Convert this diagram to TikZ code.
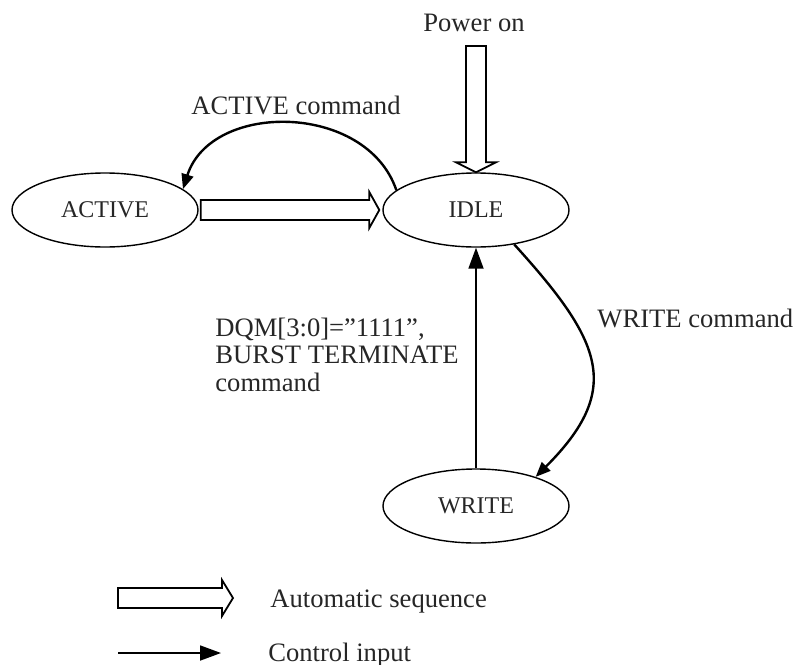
\documentclass[tikz,border=0pt]{standalone}
\usepackage{fontspec}
\setmainfont{Liberation Serif}
\usetikzlibrary{shapes.geometric,arrows.meta,calc}
\begin{document}
\begin{tikzpicture}[x=0.5pt,y=-0.5pt,
  state/.style={draw, ellipse, line width=0.7pt, minimum width=93pt, minimum height=37pt,
    inner sep=0pt, font=\fontsize{12}{14}\selectfont, text=black!85},
  lbl/.style={font=\fontsize{13.3}{13.6}\selectfont, inner sep=0pt, text=black!85},
  hollow/.style={draw, line width=0.9pt, fill=white, line join=miter},
  ctrl/.style={line width=1.2pt, -{Triangle[length=7.5pt,width=6pt]}},
  straight/.style={line width=0.9pt, -{Triangle[length=10.5pt,width=7.5pt]}}]
\useasboundingbox (0,0) rectangle (797,664);

% states
\node[state] (act)  at (105,210) {ACTIVE};
\node[state] (idle) at (476,210) {IDLE};
\node[state] (wr)   at (476,506) {WRITE};

% power-on entry
\node[lbl, anchor=base] (pwr) at (474,32) {Power on};
\coordinate (pon) at (476,46);
\draw[hollow] ($(pon)+(-10,0)$) -- ($(idle.north)+(-10,-10)$) -- ($(idle.north)+(-20,-10)$)
  -- (idle.north) -- ($(idle.north)+(20,-10)$) -- ($(idle.north)+(10,-10)$)
  -- ($(pon)+(10,0)$) -- cycle;

% automatic return ACTIVE -> IDLE
\draw[hollow] ($(act.east)+(2,-10)$) -- ($(idle.west)+(-13,-10)$) -- ($(idle.west)+(-13,-18)$)
  -- ($(idle.west)+(-3,0)$) -- ($(idle.west)+(-13,18)$) -- ($(idle.west)+(-13,10)$)
  -- ($(act.east)+(2,10)$) -- cycle;

% commands
\draw[ctrl] (idle.166) .. controls +(-30,-88) and +(28,-88) .. (act.15);
\node[lbl, anchor=base] (acmd) at (296,114) {ACTIVE command};

\draw[ctrl] (idle.-42) .. controls +(88,97) and +(88,-88) .. (wr.26);
\node[lbl, anchor=base west] (wcmd) at (597,327) {WRITE command};

\draw[straight] (wr.north) -- (idle.south);
\node[lbl, anchor=base west, align=left] (dqm) at (215,391)
  {DQM[3:0]=”1111\symbol{34},\\BURST TERMINATE\\command};

% legend
\coordinate (la1) at (118,598);
\coordinate (la2) at (233,598);
\draw[hollow] ($(la1)+(0,-10)$) -- ($(la2)+(-11,-10)$) -- ($(la2)+(-11,-18)$) -- (la2)
  -- ($(la2)+(-11,18)$) -- ($(la2)+(-11,10)$) -- ($(la1)+(0,10)$) -- cycle;
\node[lbl, anchor=base west] (lauto) at (270,607) {Automatic sequence};

\coordinate (lc1) at (118,653);
\coordinate (lc2) at (221,653);
\draw[straight] (lc1) -- (lc2);
\node[lbl, anchor=base west] (lctrl) at (268,661) {Control input};
\end{tikzpicture}
\end{document}
